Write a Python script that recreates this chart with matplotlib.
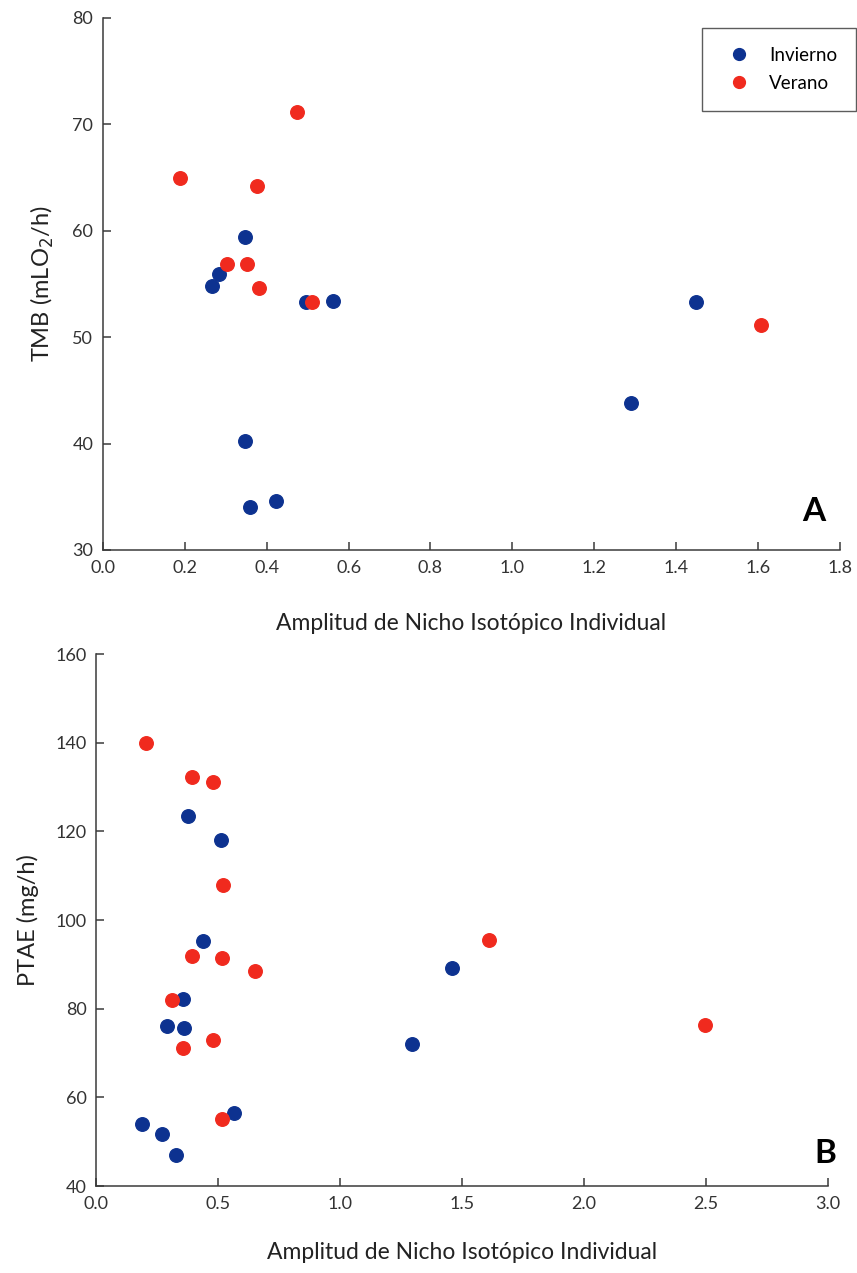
import matplotlib
matplotlib.use("Agg")
import matplotlib.pyplot as plt
from matplotlib.lines import Line2D

plt.rcParams['font.family'] = ['Lato', 'DejaVu Sans']

# Panel A: TMB vs amplitud de nicho
a_inv_x = [0.346, 0.284, 0.267, 0.497, 0.563, 0.346, 0.359, 0.423, 1.448, 1.289]
a_inv_y = [59.4, 55.9, 54.8, 53.3, 53.4, 40.2, 34.0, 34.6, 53.3, 43.8]
a_ver_x = [0.188, 0.474, 0.377, 0.304, 0.352, 0.380, 0.511, 1.607]
a_ver_y = [65.0, 71.2, 64.2, 56.9, 56.9, 54.6, 53.3, 51.1]

# Panel B: PTAE vs amplitud de nicho
b_inv_x = [0.377, 0.511, 0.439, 1.457, 0.357, 0.288, 0.359, 1.293, 0.564, 0.189, 0.270, 0.325]
b_inv_y = [123.4, 118.0, 95.3, 89.2, 82.3, 76.1, 75.7, 72.0, 56.4, 54.1, 51.8, 46.9]
b_ver_x = [0.204, 0.391, 0.480, 0.520, 0.391, 0.514, 0.650, 1.612, 0.309, 0.477, 0.356, 0.515, 2.496]
b_ver_y = [139.9, 132.3, 131.2, 107.9, 92.0, 91.5, 88.4, 95.4, 81.9, 73.0, 71.1, 55.1, 76.3]

a_xticks = [0.0, 0.2, 0.4, 0.6, 0.8, 1.0, 1.2, 1.4, 1.6, 1.8]
a_yticks = [30, 40, 50, 60, 70, 80]
b_xticks = [0.0, 0.5, 1.0, 1.5, 2.0, 2.5, 3.0]
b_yticks = [40, 60, 80, 100, 120, 140, 160]

azul = '#0d3290'
rojo = '#f02a1e'
gris = '#3a3a3a'

fig = plt.figure(figsize=(8.57, 12.73), dpi=100)
axA = fig.add_axes([0.1202, 0.568, 0.980 - 0.1202, 0.9859 - 0.568])
axB = fig.add_axes([0.1124, 0.0683, 0.966 - 0.1124, 0.4862 - 0.0683])


def estilo(ax, xt, yt, xlab, ylab, xpad):
    ax.set_xlim(xt[0], xt[-1])
    ax.set_ylim(yt[0], yt[-1])
    ax.set_xticks(xt)
    ax.set_yticks(yt)
    ax.set_xticklabels(['%.1f' % v for v in xt])
    ax.set_yticklabels([str(v) for v in yt])
    for s in ['top', 'right']:
        ax.spines[s].set_visible(False)
    for s in ['left', 'bottom']:
        ax.spines[s].set_color(gris)
        ax.spines[s].set_linewidth(1.1)
    ax.tick_params(direction='in', length=6, width=1.1, color=gris,
                   labelsize=13, labelcolor='#333333', pad=7)
    ax.set_xlabel(xlab, fontsize=16.5, color='#222222', labelpad=xpad)
    ax.set_ylabel(ylab, fontsize=17, color='#222222', labelpad=12)


axA.scatter(a_inv_x, a_inv_y, s=95, color=azul, zorder=3, clip_on=False)
axA.scatter(a_ver_x, a_ver_y, s=95, color=rojo, zorder=3, clip_on=False)
estilo(axA, a_xticks, a_yticks, 'Amplitud de Nicho Isotópico Individual',
       'TMB (mLO$_2$/h)', 27)
axA.text(0.965, 0.073, 'A', transform=axA.transAxes, fontsize=24,
         fontweight='bold', ha='center', va='center')

axB.scatter(b_inv_x, b_inv_y, s=95, color=azul, zorder=3, clip_on=False)
axB.scatter(b_ver_x, b_ver_y, s=95, color=rojo, zorder=3, clip_on=False)
estilo(axB, b_xticks, b_yticks, 'Amplitud de Nicho Isotópico Individual',
       'PTAE (mg/h)', 22)
axB.text(0.997, 0.062, 'B', transform=axB.transAxes, fontsize=24,
         fontweight='bold', ha='center', va='center')

handles = [Line2D([], [], marker='o', linestyle='none', markersize=8.5,
                  color=azul, label='Invierno'),
           Line2D([], [], marker='o', linestyle='none', markersize=8.5,
                  color=rojo, label='Verano')]
leg = fig.legend(handles=handles, loc='upper right',
                 bbox_to_anchor=(856 / 857, 1 - 28 / 1273),
                 fontsize=13.5, frameon=True, fancybox=False,
                 edgecolor='#333333', borderpad=1.0, handletextpad=0.6,
                 labelspacing=0.6, borderaxespad=0)
leg.get_frame().set_linewidth(1.0)

fig.savefig('out.png', dpi=100, facecolor='white')
